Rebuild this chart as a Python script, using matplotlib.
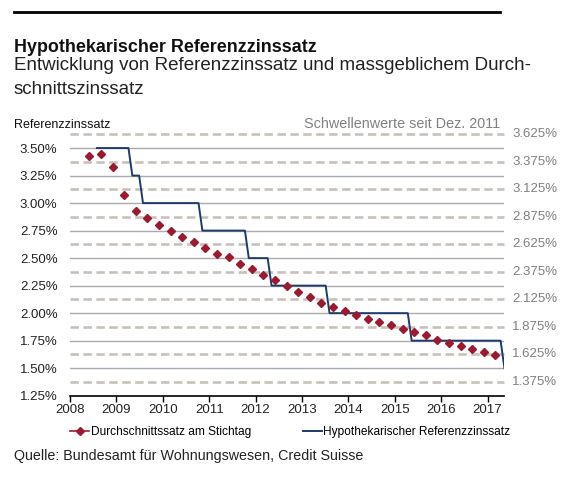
import numpy as np
from matplotlib import pyplot as plt
from matplotlib.lines import Line2D

plt.rcParams['font.family'] = ['Liberation Sans', 'DejaVu Sans']

# Durchschnittssatz am Stichtag (quarterly)
avg_start = 2008.42
avg_rates = [3.43, 3.45, 3.33, 3.07, 2.93, 2.86, 2.80, 2.75, 2.69, 2.65,
             2.59, 2.54, 2.51, 2.45, 2.40, 2.35, 2.30, 2.25, 2.19, 2.15,
             2.09, 2.06, 2.02, 1.98, 1.95, 1.92, 1.89, 1.86, 1.83, 1.80,
             1.76, 1.73, 1.70, 1.67, 1.645, 1.62]

# Hypothekarischer Referenzzinssatz: start and change dates
ref_start = 2008.58
ref_first = 3.50
ref_change_dates = [2009.26, 2009.49, 2010.77, 2011.77, 2012.26, 2013.51, 2015.28, 2017.28]
ref_change_rates = [3.25, 3.00, 2.75, 2.50, 2.25, 2.00, 1.75, 1.50]

left_ticks = [1.25, 1.50, 1.75, 2.00, 2.25, 2.50, 2.75, 3.00, 3.25, 3.50]
thresholds = [1.375, 1.625, 1.875, 2.125, 2.375, 2.625, 2.875, 3.125, 3.375, 3.625]
years = list(range(2008, 2018))

avg_x = avg_start + 0.25 * np.arange(len(avg_rates))

# build the reference line with one-month transitions
ref_x = [ref_start]
ref_y = [ref_first]
prev = ref_first
for d, r in zip(ref_change_dates, ref_change_rates):
    ref_x += [d, d + 1 / 12]
    ref_y += [prev, r]
    prev = r

fig = plt.figure(figsize=(5.84, 4.8), dpi=100)
ax = fig.add_axes([70 / 584, 1 - 395.7 / 480, 434 / 584, (395.7 - 134.3) / 480])

x0, x1 = 2008, 2008 + 434 / 46.4
ax.set_xlim(x0, x1)
ax.set_ylim(1.25, 3.625)

for v in left_ticks[1:]:
    ax.axhline(v, color='#ababab', lw=1, zorder=1)
for v in thresholds:
    ax.plot([x0, x1], [v, v], color='#c8c1ba', lw=1.9, dashes=(3.2, 1.7),
            clip_on=False, zorder=1, solid_capstyle='butt')

ax.plot(ref_x, ref_y, color='#1c3b6b', lw=1.4, zorder=3)
ax.plot(avg_x, avg_rates, ls='none', marker='D', ms=4.5, color='#9c1a30', zorder=4)

for s in ['top', 'right', 'left']:
    ax.spines[s].set_visible(False)
ax.spines['bottom'].set_color('black')
ax.spines['bottom'].set_linewidth(1.2)
ax.set_xticks(years)
ax.set_xticklabels([str(y) for y in years], fontsize=9.5, color='#222222')
ax.set_yticks(left_ticks)
ax.set_yticklabels([f"{v:.2f}%" for v in left_ticks], fontsize=9.5, color='#222222')
ax.tick_params(axis='y', length=0, pad=9)
ax.tick_params(axis='x', length=4, width=1, pad=2)

for v in thresholds:
    ax.text(x1 + 0.18, v, f"{v:.3f}%", fontsize=9.5, color='#808080',
            va='center', ha='left', clip_on=False)

# header
fig.add_artist(Line2D([14 / 584, 500 / 584], [1 - 12 / 480, 1 - 12 / 480],
                      color='black', lw=2))
fig.text(14 / 584, 1 - 51.5 / 480, "Hypothekarischer Referenzzinssatz",
         fontsize=12.9, fontweight='bold', color='#111111', va='baseline')
fig.text(14 / 584, 1 - 70 / 480, "Entwicklung von Referenzzinssatz und massgeblichem Durch-",
         fontsize=13.5, color='#222222', va='baseline')
fig.text(14 / 584, 1 - 94 / 480, "schnittszinssatz",
         fontsize=13.5, color='#222222', va='baseline')
fig.text(14 / 584, 1 - 128 / 480, "Referenzzinssatz", fontsize=9,
         color='#111111', va='baseline')
fig.text(500 / 584, 1 - 128 / 480, "Schwellenwerte seit Dez. 2011", fontsize=10.4,
         color='#808080', va='baseline', ha='right')

handles = [Line2D([], [], color='#9c1a30', marker='D', ms=4, lw=1.2),
           Line2D([], [], color='#1c3b6b', lw=1.4)]
fig.legend(handles, ["Durchschnittssatz am Stichtag", "Hypothekarischer Referenzzinssatz"],
           loc='center left', bbox_to_anchor=(70 / 584, 1 - 432 / 480), ncol=2,
           frameon=False, fontsize=8.6, handlelength=1.6, handletextpad=0.15,
           columnspacing=4.3, borderaxespad=0, borderpad=0)

fig.text(14 / 584, 1 - 460 / 480, "Quelle: Bundesamt für Wohnungswesen, Credit Suisse",
         fontsize=10.3, color='#222222', va='baseline')

fig.savefig('out.png', dpi=100)
